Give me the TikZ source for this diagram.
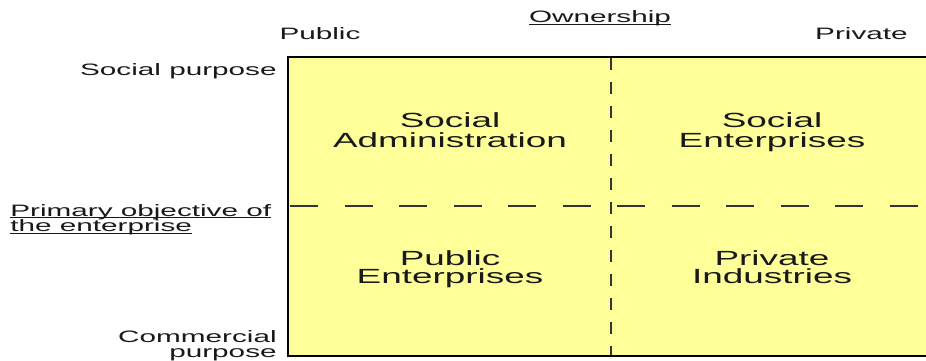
\documentclass[tikz,border=0pt]{standalone}
\usepackage{fontspec}
\setmainfont{Liberation Sans}
\definecolor{quadyellow}{RGB}{255,255,153}
\definecolor{inktext}{RGB}{25,25,25}
\newcommand\ulabel[1]{\underline{\smash{#1}}}
\begin{document}
\begin{tikzpicture}[x=1pt,y=-1pt,
  small/.style={font=\fontsize{16.5}{18}\selectfont, xscale=1.80, inner sep=0pt, text=inktext},
  big/.style={font=\fontsize{20.5}{22}\selectfont, xscale=1.80, inner sep=0pt, text=inktext},
  border/.style={line width=2.6pt, draw=black},
  divider/.style={line width=1.2pt, draw=black!80},
]
\useasboundingbox (0,0) rectangle (926,360);

% quadrant area
\coordinate (tl) at (288,57);
\coordinate (bl) at (288,356);
\coordinate (tr) at (940,57);
\coordinate (br) at (940,356);
\fill[quadyellow] (tl) rectangle (br);

% dividers
\coordinate (vt) at (611,58);
\coordinate (vb) at (611,356);
\coordinate (hl) at (290,206);
\coordinate (hr) at (940,206);
\draw[divider, dash pattern=on 12pt off 12pt] (vt) -- (vb);
\draw[divider, dash pattern=on 28pt off 26.5pt] (hl) -- (hr);

% border
\draw[border] (tr) -- (tl) -- (bl) -- (br);

% axis labels
\node[small, anchor=base] (own) at (600,22.5) {\ulabel{Ownership}};
\node[small, anchor=base] (pub) at (320,39) {Public};
\node[small, anchor=base east] (priv) at (908,39) {Private};
\node[small, anchor=base east] (socp) at (277,75) {Social purpose};
\node[small, anchor=base west, text depth=2pt] (prim1) at (10,216) {\ulabel{Primary objective of}};
\node[small, anchor=base west] (prim2) at (10,231.5) {\ulabel{the enterprise}};
\node[small, anchor=base east, text depth=0pt] (com1) at (277,342) {Commercial};
\node[small, anchor=base east, text height=8.5pt] (com2) at (277,357) {purpose};

% quadrant labels
\node[big, anchor=base] (sa1) at (450,127) {Social};
\node[big, anchor=base] (sa2) at (450,147) {Administration};
\node[big, anchor=base] (se1) at (772,127) {Social};
\node[big, anchor=base] (se2) at (772,147) {Enterprises};
\node[big, anchor=base] (pe1) at (450,265) {Public};
\node[big, anchor=base] (pe2) at (450,283.5) {Enterprises};
\node[big, anchor=base] (pi1) at (772,265) {Private};
\node[big, anchor=base] (pi2) at (772,283.5) {Industries};
\end{tikzpicture}
\end{document}
